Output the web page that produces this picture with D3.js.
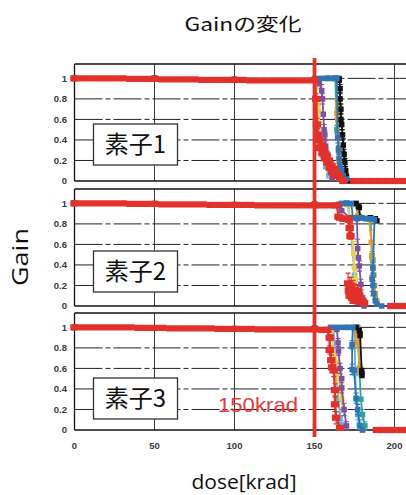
<!DOCTYPE html>
<html><head><meta charset="utf-8">
<script src="https://cdn.jsdelivr.net/npm/d3@7"></script>
<style>body{margin:0;background:#fff}</style>
</head><body>
<svg id="c" width="406" height="495"></svg>
<script>
// ---------- labels / ticks ----------
const titleText = "Gainの変化";
const yLabel = "Gain";
const xLabel = "dose[krad]";
const markerNote = "150krad";
const markerDose = 150;
const xTicks = [0, 50, 100, 150, 200];
const yTicks = [0, 0.2, 0.4, 0.6, 0.8, 1];
const yTickLabels = ["0", "0.2", "0.4", "0.6", "0.8", "1"];
const panelNames = ["素子1", "素子2", "素子3"];
const seriesNames = ["lightblue", "yellow", "purple", "teal", "orange", "black", "blue", "red"];
const seriesColors = ["#5cb6e6", "#e8d44a", "#7e4fa6", "#2aa597", "#e69a2c", "#111111", "#2f75b5", "#e2302a"];

// ---------- data: [dose, gain, err?]; null = gap ----------
// 素子1
const p1Red = [[0,1],[5,1],[10,1],[15,1],[20,1],[25,1],[30,1],[35,0.995],[40,0.995],[45,0.995],[50,0.995],[55,0.99],[60,0.99],[65,0.99],[70,0.99],[75,0.99],[80,0.985],[85,0.985],[90,0.985],[95,0.985],[100,0.985],[105,0.985],[110,0.98],[115,0.98],[120,0.98],[125,0.98],[130,0.98],[135,0.98],[140,0.98],[145,0.98],[150,0.98],
  [151,0.8,0.05],[151.5,0.55,0.06],[152,0.45,0.06],[153,0.4,0.05],[153.5,0.32],[154.5,0.35,0.05],[155,0.27],[156,0.3,0.05],[156.5,0.22],[157.5,0.25,0.05],[158,0.18],[159,0.2,0.05],[159.5,0.13],[160.5,0.15,0.04],[161,0.1],[162,0.12,0.04],[162.5,0.07],[163.5,0.08,0.04],[164,0.05],[165,0.05,0.03],[166,0.03],[168,0],null,
  [175,0],[180,0],[185,0],[190,0],[195,0],[200,0],[205,0],[210,0]];
const p1Blue = [[0,1],[50,1],[100,0.99],[150,0.99],[153,1],[156,1],[159,1],[162,1],[164,1],[164.5,0.42,0.05],[165,0.3,0.04],[165.5,0.22,0.04],[166,0.15],[167,0.1],[168,0.05],[170,0.02],[175,0]];
const p1Black = [[0,1],[50,1],[100,0.99],[150,0.99],[158,1],[163,1],[165.5,0.99,0.03],[166,0.9,0.04],[166,0.8,0.05],[166.5,0.7,0.05],[166.5,0.6,0.06],[167,0.55,0.05],[167.5,0.45,0.05],[168,0.35,0.06],[168.5,0.26,0.05],[169,0.18,0.04],[169.5,0.1,0.04],[170,0.04,0.03],[171,0]];
const p1Orange = [[0,1],[50,1],[100,0.99],[150,0.99],[160,1],[164,1],[164.5,0.74,0.06],[164,0.66,0.05],[164.5,0.6,0.05],[165,0.45],[165.5,0.3],[165,0.22,0.05],[166,0.15,0.05],[167,0.08],[168,0.03]];
const p1Teal = [[0,1],[50,1],[150,0.99],[163,1],[164,0.5,0.04],[164.5,0.45,0.04],[165,0.32],[165.5,0.2],[166,0.1],[167,0.04]];
const p1Purple = [[0,1],[50,1],[150,0.99],[153,0.95],[154.5,0.88,0.06],[155,0.8,0.05],[155.5,0.65],[156,0.5,0.05],[156.5,0.45,0.04],[157,0.34,0.05],[158,0.25,0.04],[159,0.16],[160,0.08],[161,0.03]];
const p1Yellow = [[0,1],[50,1],[150,0.99],[151,0.92],[152,0.74,0.05],[152.5,0.68,0.05],[153,0.56],[153.5,0.45],[154,0.35],[156,0.26],[158,0.2,0.05],[159,0.13,0.04],[160,0.06]];
const p1LightBlue = [[0,1],[50,1],[150,0.99],[151,0.62,0.05],[151.5,0.56,0.04],[152,0.46],[153,0.36],[155,0.25],[157,0.14],[159,0.05]];

// 素子2
const p2Red = [[0,1],[5,1],[10,1],[15,1],[20,1],[25,1],[30,1],[35,0.995],[40,0.995],[45,0.995],[50,0.995],[55,0.99],[60,0.99],[65,0.99],[70,0.99],[75,0.99],[80,0.99],[85,0.985],[90,0.985],[95,0.985],[100,0.985],[105,0.985],[110,0.985],[115,0.98],[120,0.98],[125,0.98],[130,0.98],[135,0.98],[140,0.98],[145,0.98],[150,0.98],[155,0.98],[160,0.98],[164,0.98],
  [165,0.87],[166,0.86],[168,0.85],[170,0.85],[171.5,0.84],[172,0.76,0.04],[172.5,0.68,0.03],null,
  [171,0.22,0.1],[171.5,0.15],[172,0.1],[172,0.18,0.1],[173,0.2,0.08],[173.5,0.08],[174,0.15,0.1],[174.5,0.05],[175,0.12,0.08],[176,0.1,0.08],[176.5,0.05],[177,0.15,0.06],[178,0.1],[178.5,0.04],[179,0.06],[180,0.05],[181,0.03],null,
  [198,0],[202,0],[206,0],[210,0]];
const p2Blue = [[0,1],[50,1],[100,0.99],[150,0.99],[165,0.99],[167,1],[170,1],[173,1],[174,0.86],[176,0.86],[178,0.86],[180,0.86],[182,0.85],[184,0.85],[186,0.85],[187.5,0.84],[186.5,0.37,0.05],[186,0.26,0.12],[186.5,0.2,0.1],[187,0.12],[188,0.05],[189,0.02],null,[192,0]];
const p2Black = [[0,1],[150,0.99],[170,1],[176,1],[177.5,0.97],[178,0.96],[178.5,0.86],[185,0.86],[188,0.85],[189,0.83]];
const p2Orange = [[0,1],[150,0.99],[170,1],[176,0.99],[177,0.88],[184,0.86],[185.5,0.62,0.12],[186,0.48],[186.5,0.37,0.06],[186,0.28],[187,0.2,0.05],[188,0.12],[189,0.05]];
const p2Teal = [[0,1],[150,0.99],[176,0.99],[178,0.87],[185,0.86],[186,0.49,0.04],[186.5,0.45],[187,0.3],[187.5,0.2],[188,0.08]];
const p2Yellow = [[0,1],[150,0.99],[170,0.99],[172,0.87],[174.5,0.51,0.12],[175,0.37,0.08],[175.5,0.26],[176,0.15],[177,0.05]];
const p2Purple = [[0,1],[150,0.99],[166,0.99],[167,0.93],[172,0.86],[176.5,0.85],[177,0.56,0.09],[177.5,0.47],[178,0.39,0.05],[179,0.21,0.05],[180,0.08],[181,0]];
const p2LightBlue = [[0,1],[150,0.99],[171,0.99],[172,0.87],[175,0.3],[177,0.12],[180,0.03]];

// 素子3
const p3Red = [[0,1],[5,1],[10,1],[15,1],[20,1],[25,1],[30,1],[35,1],[40,0.995],[45,0.995],[50,0.995],[55,0.995],[60,0.99],[65,0.99],[70,0.99],[75,0.99],[80,0.99],[85,0.99],[90,0.985],[95,0.985],[100,0.985],[105,0.985],[110,0.985],[115,0.98],[120,0.98],[125,0.98],[130,0.98],[135,0.98],[140,0.98],[145,0.98],[150,0.98],[155,0.975],[158,0.975],
  [159.5,0.9,0.03],[159.5,0.78,0.04],[160.5,0.68,0.05],[161,0.61,0.05],[162,0.58,0.06],[162.8,0.39,0.06],[162.8,0.25,0.07],[163.5,0.12,0.06],[166,0.02],null,
  [189,0],[193,0],[197,0],[201,0],[205,0],[209,0]];
const p3Blue = [[0,1],[100,0.99],[150,0.99],[160,1],[163,1],[166,1],[169,1],[172,1],[174,1],[173.5,0.83,0.04],[173.5,0.59,0.05],[174.7,0.58],[176,0.31,0.05],[177,0.2,0.05],[178.4,0.04],[180,0]];
const p3Orange = [[0,1],[150,0.99],[170,1],[176,1],[176.6,0.93,0.04],[177,0.85,0.04],[178.4,0.6,0.04],[179,0.56,0.05],null,[180,0]];
const p3Black = [[0,1],[150,0.99],[176,1],[178,0.97],[178.5,0.93,0.03],[179.5,0.57,0.03],[179.7,0.54,0.03]];
const p3Purple = [[0,1],[150,0.99],[164,0.98],[164.7,0.85,0.04],[165,0.77,0.04],[166,0.6,0.05],[167,0.5],[167,0.41,0.05],[168.5,0.2,0.06],[170,0.04,0.04]];
const p3Yellow = [[0,1],[150,0.99],[161,0.98],[162,0.75],[163.4,0.66,0.05],[164.5,0.56,0.05],[165.5,0.48,0.05],[166.5,0.38,0.06],[167,0.31,0.06],[168,0.2]];
const p3LightBlue = [[0,1],[150,0.99],[162,0.98],[163,0.6],[165,0.3],[166,0.12,0.05],[167,0.05,0.04],null,[175,0.98],[175.5,0.55],[176,0.3],[177,0.15,0.05],[178,0.05,0.04]];
const p3Teal = [[0,1],[150,0.99],[177,1],[178,0.6],[179,0.3],[180,0.15,0.05],[181.5,0.04,0.04]];

const panelSeries = [
  [p1LightBlue, p1Yellow, p1Purple, p1Teal, p1Orange, p1Black, p1Blue, p1Red],
  [p2LightBlue, p2Yellow, p2Purple, p2Teal, p2Orange, p2Black, p2Blue, p2Red],
  [p3LightBlue, p3Yellow, p3Purple, p3Teal, p3Orange, p3Black, p3Blue, p3Red]
];

// ---------- layout ----------
const W = 406, H = 495;
const plotLeft = 74.5, plotRight = 410.5;
const panelTops = [64, 189, 313];
const panelH = 117;
const yMax = 1.14;
const svg = d3.select("#c");
const x = d3.scaleLinear().domain([0, 210]).range([plotLeft, plotRight]);
const tickFont = "'Liberation Sans', Arial, sans-serif";

panelTops.forEach((top, pi) => {
  const bottom = top + panelH;
  const y = d3.scaleLinear().domain([0, yMax]).range([bottom, top]);
  const g = svg.append("g");

  // vertical grid
  g.selectAll(".vg").data(xTicks.filter(d => d > 0)).join("line")
    .attr("x1", d => x(d)).attr("x2", d => x(d))
    .attr("y1", top).attr("y2", bottom)
    .attr("stroke", "#3a3a3a").attr("stroke-width", 1);
  // horizontal grid
  g.selectAll(".hg").data(yTicks.filter(d => d > 0)).join("line")
    .attr("x1", plotLeft).attr("x2", W)
    .attr("y1", d => y(d)).attr("y2", d => y(d))
    .attr("stroke", "#222").attr("stroke-width", 1)
    .attr("stroke-dasharray", "28,3,5,3");
  // frame
  g.append("line").attr("x1", plotLeft).attr("x2", W).attr("y1", top).attr("y2", top)
    .attr("stroke", "#111").attr("stroke-width", 1.3);
  g.append("line").attr("x1", plotLeft).attr("x2", W).attr("y1", y(0)).attr("y2", y(0))
    .attr("stroke", "#111").attr("stroke-width", 1.5);
  g.append("line").attr("x1", plotLeft).attr("x2", plotLeft).attr("y1", top).attr("y2", bottom)
    .attr("stroke", "#111").attr("stroke-width", 1.3);

  // y tick labels
  g.selectAll(".yt").data(yTicks).join("text")
    .attr("x", 67).attr("y", d => y(d)).attr("dy", "0.35em")
    .attr("text-anchor", "end")
    .attr("font-family", tickFont).attr("font-size", 9.5).attr("font-weight", "bold")
    .attr("fill", "#3a3a3a")
    .text((d, i) => yTickLabels[i]);

  // series
  const line = d3.line().defined(d => d !== null).x(d => x(d[0])).y(d => y(d[1]));
  panelSeries[pi].forEach((data, si) => {
    const col = seriesColors[si];
    const isRed = seriesNames[si] === "red";
    const sg = g.append("g");
    const pts = data.filter(d => d !== null);
    sg.append("path").attr("d", line(data)).attr("fill", "none")
      .attr("stroke", col).attr("stroke-width", isRed ? 2.4 : 1.8);
    const eb = pts.filter(d => d.length > 2);
    sg.selectAll(".eb").data(eb).join("path")
      .attr("d", d => {
        const xx = x(d[0]), y1 = y(d[1] + d[2]), y2 = y(Math.max(0, d[1] - d[2]));
        return `M${xx},${y1}V${y2}M${xx - 2.5},${y1}H${xx + 2.5}M${xx - 2.5},${y2}H${xx + 2.5}`;
      })
      .attr("fill", "none").attr("stroke", col).attr("stroke-width", 1.1);
    const mw = isRed ? 8.4 : 5.5, mh = isRed ? 6.2 : 5.5;
    sg.selectAll(".mk").data(pts).join("rect")
      .attr("x", d => x(d[0]) - mw / 2).attr("y", d => y(d[1]) - mh / 2)
      .attr("width", mw).attr("height", mh).attr("fill", col);
  });

  // x tick labels only on bottom panel
  if (pi === panelTops.length - 1) {
    g.selectAll(".xt").data(xTicks).join("text")
      .attr("x", d => x(d)).attr("y", 449)
      .attr("text-anchor", "middle")
      .attr("font-family", tickFont).attr("font-size", 9.5).attr("font-weight", "bold")
      .attr("fill", "#3a3a3a")
      .text(d => d);
  }
});

// 150 krad marker line
svg.append("line").attr("x1", x(markerDose)).attr("x2", x(markerDose))
  .attr("y1", 58).attr("y2", 437)
  .attr("stroke", "#e5322c").attr("stroke-width", 3.8);

// label boxes
const boxTops = [124, 251, 378];
boxTops.forEach((bt, i) => {
  svg.append("rect").attr("x", 93.5).attr("y", bt).attr("width", 84).attr("height", 41)
    .attr("fill", "#fff").attr("stroke", "#333").attr("stroke-width", 1.3);
  svg.append("text").attr("x", 135.5).attr("y", bt + 20.5).attr("dy", "0.36em")
    .attr("text-anchor", "middle")
    .attr("font-family", "'Noto Sans CJK JP', sans-serif").attr("font-size", 24)
    .attr("fill", "#111").text(panelNames[i]);
});

// 150krad text
svg.append("text").attr("x", 218).attr("y", 412)
  .attr("font-family", "'Liberation Sans', Arial, sans-serif").attr("font-size", 21)
  .attr("textLength", 80).attr("lengthAdjust", "spacingAndGlyphs")
  .attr("fill", "#e8383d").text(markerNote);

// title
svg.append("text").attr("x", 243).attr("y", 31).attr("text-anchor", "middle")
  .attr("font-family", "'Noto Sans CJK JP', sans-serif").attr("font-size", 18)
  .attr("textLength", 117).attr("lengthAdjust", "spacingAndGlyphs")
  .attr("fill", "#111").text(titleText);

// y label
svg.append("text").attr("transform", "translate(28,257) rotate(-90)")
  .attr("text-anchor", "middle")
  .attr("font-family", "'Open Sans', sans-serif").attr("font-size", 21)
  .attr("textLength", 58).attr("lengthAdjust", "spacingAndGlyphs")
  .attr("fill", "#111").text(yLabel);

// x label
svg.append("text").attr("x", 244).attr("y", 489).attr("text-anchor", "middle")
  .attr("font-family", "'Open Sans', sans-serif").attr("font-size", 20)
  .attr("textLength", 105).attr("lengthAdjust", "spacingAndGlyphs")
  .attr("fill", "#111").text(xLabel);
</script>
</body></html>
